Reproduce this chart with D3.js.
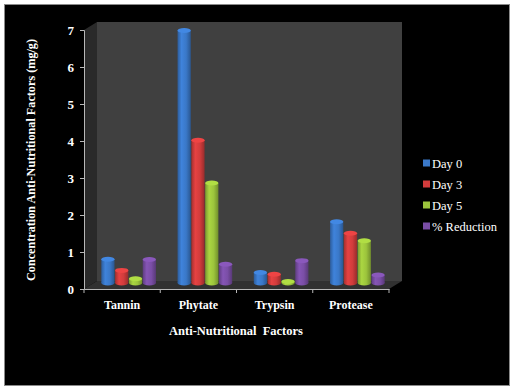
<!DOCTYPE html>
<html>
<head>
<meta charset="utf-8">
<script src="https://cdn.jsdelivr.net/npm/d3@7"></script>
<style>
  html, body { margin: 0; padding: 0; background: #fff; }
  svg { display: block; }
</style>
</head>
<body>
<div id="chart"></div>
<script>
// data
const categories = ["Tannin", "Phytate", "Trypsin", "Protease"];
const seriesNames = ["Day 0", "Day 3", "Day 5", "% Reduction"];
const day0 = [0.66, 7.0, 0.29, 1.70];
const day3 = [0.35, 3.96, 0.24, 1.38];
const day5 = [0.12, 2.77, 0.04, 1.17];
const reduction = [0.65, 0.52, 0.62, 0.22];
const yTicks = [0, 1, 2, 3, 4, 5, 6, 7];

const COLORS = {
  "Day 0": "#3a78c8",
  "Day 3": "#d23c3c",
  "Day 5": "#9cc43c",
  "% Reduction": "#7a4ea6",
};
const SERIF = '"Liberation Serif"';

const seriesValues = [day0, day3, day5, reduction];
const rows = categories.map((c, i) => ({
  cat: c,
  values: seriesNames.map((s, j) => ({ key: s, value: seriesValues[j][i] })),
}));

const width = 512, height = 388;
const svg = d3.select("#chart").append("svg")
  .attr("width", width).attr("height", height);

svg.append("rect").attr("width", width).attr("height", height).attr("fill", "#fff");
svg.append("rect")
  .attr("x", 4.5).attr("y", 4.5).attr("width", 505).attr("height", 381)
  .attr("fill", "#000").attr("stroke", "#8a8a8a");

// 1. SCALES (front plane)
const x = d3.scaleBand().domain(categories).range([84, 389]).padding(0);
const y = d3.scaleLinear().domain([0, 7]).range([289, 30]);

// depth of the 3d box
const DX = 13, DY = -8;
// bars sit half way into the box
const bx = DX / 2;
const yb = d3.scaleLinear().domain([0, 7]).range([283, 30.5]);

const x1 = d3.scaleBand().domain(seriesNames)
  .range([10.5, x.bandwidth() - 10.5]).padding(0);

// 2. WALLS + FLOOR
const x0 = x.range()[0], xEnd = x.range()[1];
svg.append("polygon")
  .attr("points", [[x0, y(7)], [x0 + DX, y(7) + DY], [x0 + DX, y(0) + DY], [x0, y(0)]].join(" "))
  .attr("fill", "#2a2a2a");
svg.append("polygon")
  .attr("points", [[x0 + DX, y(7) + DY], [xEnd + DX, y(7) + DY], [xEnd + DX, y(0) + DY], [x0 + DX, y(0) + DY]].join(" "))
  .attr("fill", "#404040");
svg.append("polygon")
  .attr("points", [[x0, y(0)], [xEnd, y(0)], [xEnd + DX, y(0) + DY], [x0 + DX, y(0) + DY]].join(" "))
  .attr("fill", "#313131");

// 3. AXES
const yAxis = svg.append("g")
  .attr("transform", `translate(${x0},0)`)
  .call(d3.axisLeft(y).tickValues(yTicks).tickSize(4).tickPadding(6).tickFormat(d3.format("d")));
yAxis.select(".domain").attr("stroke", "#b8b8b8");
yAxis.selectAll(".tick line").attr("stroke", "#b8b8b8");
yAxis.selectAll("text")
  .attr("fill", "#fff")
  .style("font-family", SERIF)
  .style("font-size", "13px").style("font-weight", "bold");

const xAxis = svg.append("g")
  .attr("transform", `translate(0,${y(0)})`)
  .call(d3.axisBottom(x).tickSize(0).tickPadding(11).tickSizeOuter(0));
xAxis.select(".domain").attr("stroke", "#b8b8b8");
xAxis.selectAll("text")
  .attr("fill", "#fff")
  .style("font-family", SERIF)
  .style("font-size", "12px").style("font-weight", "bold");

// ticks between categories
xAxis.selectAll(".sep")
  .data(categories.map((c) => x(c)).concat([xEnd]))
  .enter().append("line")
  .attr("x1", (d) => d).attr("x2", (d) => d)
  .attr("y1", 0).attr("y2", 4)
  .attr("stroke", "#b8b8b8");

// 4. GRADIENTS for cylinders
const defs = svg.append("defs");
seriesNames.forEach((s, i) => {
  const base = d3.color(COLORS[s]);
  const g = defs.append("linearGradient").attr("id", "cyl" + i)
    .attr("x1", "0%").attr("x2", "100%").attr("y1", "0%").attr("y2", "0%");
  g.append("stop").attr("offset", "0%").attr("stop-color", base.darker(0.7));
  g.append("stop").attr("offset", "30%").attr("stop-color", base.brighter(0.25));
  g.append("stop").attr("offset", "65%").attr("stop-color", base);
  g.append("stop").attr("offset", "100%").attr("stop-color", base.darker(0.9));
});

// 5. DRAW CYLINDERS
const RY = 2.5;
const groups = svg.append("g").selectAll("g")
  .data(rows).enter().append("g")
  .attr("transform", (d) => `translate(${x(d.cat) + bx},0)`);

groups.selectAll("g.bar")
  .data((d) => d.values).enter().append("g")
  .attr("class", "bar")
  .each(function (d, i) {
    const g = d3.select(this);
    const w = x1.bandwidth() - 0.6;
    const left = x1(d.key) + 0.3;
    const cx = left + w / 2;
    const yTop = yb(d.value), yBase = yb(0);
    g.append("ellipse")
      .attr("cx", cx).attr("cy", yBase).attr("rx", w / 2).attr("ry", RY)
      .attr("fill", `url(#cyl${i})`);
    g.append("rect")
      .attr("x", left).attr("y", yTop).attr("width", w).attr("height", yBase - yTop)
      .attr("fill", `url(#cyl${i})`);
    g.append("ellipse")
      .attr("cx", cx).attr("cy", yTop).attr("rx", w / 2).attr("ry", RY)
      .attr("fill", d3.color(COLORS[d.key]).brighter(0.35));
  });

// 6. TITLES
svg.append("text")
  .attr("x", 236).attr("y", 335)
  .attr("text-anchor", "middle")
  .attr("fill", "#fff")
  .style("font-family", SERIF)
  .style("font-size", "12.5px").style("font-weight", "bold")
  .style("word-spacing", "3px")
  .text("Anti-Nutritional Factors");

svg.append("text")
  .attr("transform", "translate(35,160) rotate(-90)")
  .attr("text-anchor", "middle")
  .attr("fill", "#fff")
  .style("font-family", SERIF)
  .style("font-size", "12.2px").style("font-weight", "bold")
  .text("Concentration Anti-Nutritional Factors (mg/g)");

// 7. LEGEND
const legend = svg.append("g").attr("transform", "translate(423,163)");
legend.selectAll("g").data(seriesNames).enter().append("g")
  .attr("transform", (d, i) => `translate(0,${i * 21})`)
  .each(function (d) {
    const g = d3.select(this);
    g.append("rect")
      .attr("x", 0).attr("y", -3.5).attr("width", 7).attr("height", 7)
      .attr("fill", COLORS[d]);
    g.append("text")
      .attr("x", 9).attr("y", 4.5)
      .attr("fill", "#fff")
      .style("font-family", SERIF)
      .style("font-size", "12.5px")
      .text(d);
  });
</script>
</body>
</html>
